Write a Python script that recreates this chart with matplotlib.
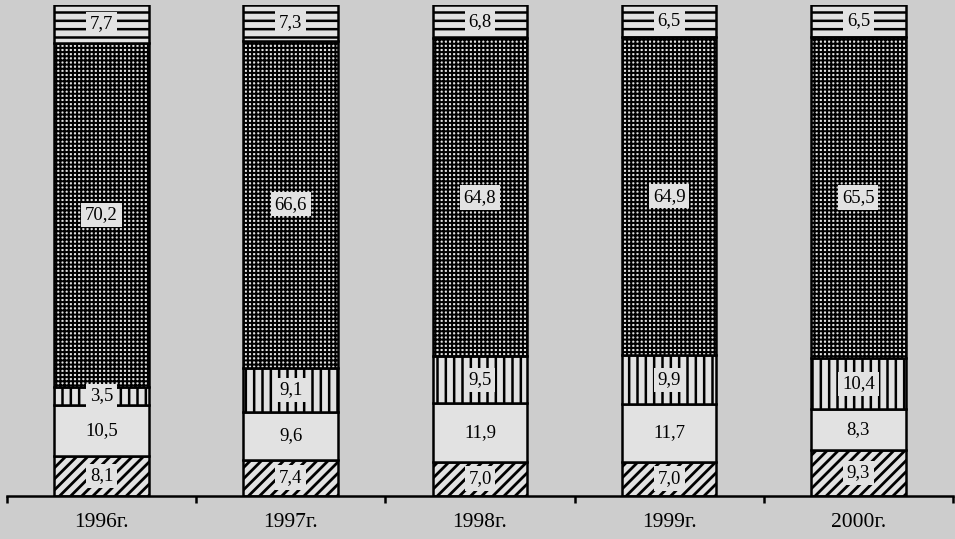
import matplotlib.pyplot as plt
import numpy as np

plt.rcParams['font.family'] = ['Liberation Serif', 'DejaVu Serif']

years = ['1996г.', '1997г.', '1998г.', '1999г.', '2000г.']
# layers from bottom to top, %
seg_diag = [8.1, 7.4, 7.0, 7.0, 9.3]
seg_blank = [10.5, 9.6, 11.9, 11.7, 8.3]
seg_vert = [3.5, 9.1, 9.5, 9.9, 10.4]
seg_check = [70.2, 66.6, 64.8, 64.9, 65.5]
seg_horiz = [7.7, 7.3, 6.8, 6.5, 6.5]

paper = '#cdcdcd'
light = '#e2e2e2'

fig = plt.figure(figsize=(9.55, 5.39), dpi=100, facecolor=paper)
ax = fig.add_axes([0.0073, 0.08, 0.9906, 0.911])
ax.set_facecolor(paper)

x = np.arange(len(years))
width = 0.5
# values, hatch, hatch line width, label box
layers = [
    (seg_diag, '///', 2.0, True),
    (seg_blank, '', 1.0, False),
    (seg_vert, '||', 1.8, True),
    (seg_check, '++++', 1.45, True),
    (seg_horiz, '--', 1.8, True),
]

bottom = np.zeros(len(years))
for vals, hatch, hlw, boxed in layers:
    vals = np.array(vals)
    with plt.rc_context({'hatch.linewidth': hlw}):
        bars = ax.bar(x, vals, width, bottom=bottom, color=light, edgecolor='black',
                      hatch=hatch, linewidth=1.8, zorder=2)
    for xi, b, v in zip(x, bottom, vals):
        txt = '{:.1f}'.format(v).replace('.', ',')
        bbox = dict(boxstyle='square,pad=0.2', fc=light, ec='none') if boxed else None
        ax.text(xi, b + v / 2, txt, ha='center', va='center', fontsize=13.5,
                bbox=bbox, zorder=3)
    bottom = bottom + vals

ax.set_xlim(-0.5, 4.5)
ax.set_ylim(0, 100)
for s in ['left', 'right', 'top']:
    ax.spines[s].set_visible(False)
ax.spines['bottom'].set_linewidth(1.8)
ax.set_yticks([])

ax.set_xticks(np.arange(-0.5, 5, 1.0))
ax.set_xticklabels([])
ax.tick_params(axis='x', which='major', direction='out', length=5, width=1.8)
ax.set_xticks(x, minor=True)
ax.set_xticklabels(years, minor=True, fontsize=15.5)
ax.tick_params(axis='x', which='minor', length=0, pad=12)

fig.savefig('out.png', dpi=100, facecolor=paper)
